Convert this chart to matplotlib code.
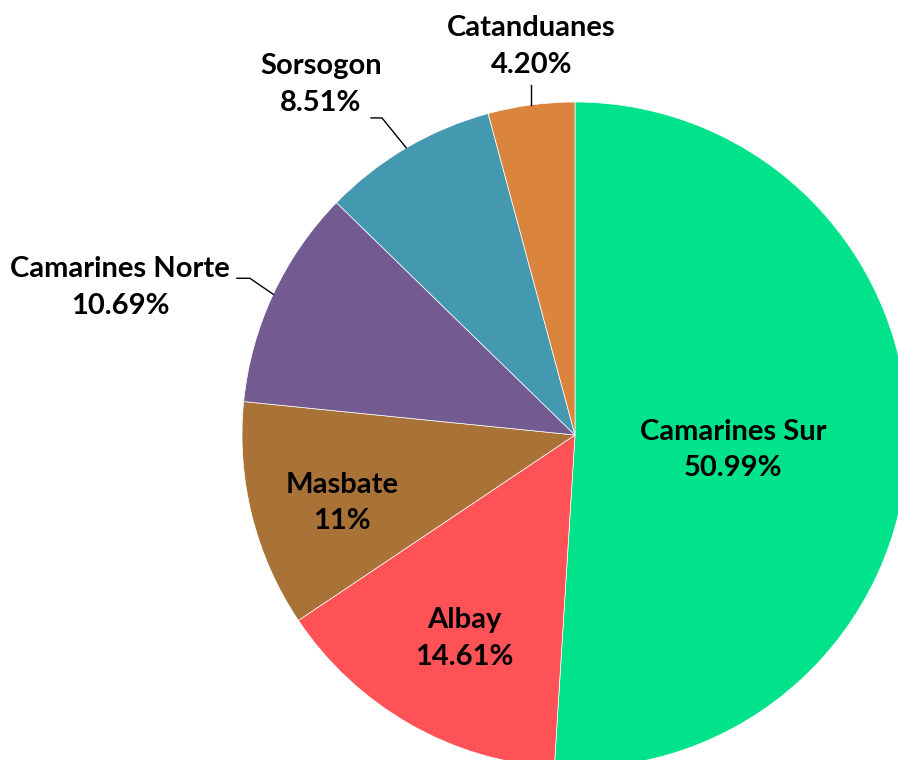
import numpy as np
import matplotlib.pyplot as plt

plt.rcParams['font.family'] = ['Lato', 'DejaVu Sans']

provinces = ['Camarines Sur', 'Albay', 'Masbate', 'Camarines Norte', 'Sorsogon', 'Catanduanes']
shares = [50.99, 14.61, 11, 10.69, 8.51, 4.20]
share_labels = ['50.99%', '14.61%', '11%', '10.69%', '8.51%', '4.20%']
colors = ['#00E38A', '#FF5257', '#A97337', '#735A90', '#4499B0', '#DB843D']

R = 333.0
fig = plt.figure(figsize=(8.98, 7.6), dpi=100)
ax = fig.add_axes([0, 0, 1, 1])

wedges, _ = ax.pie(shares, colors=colors, startangle=90, counterclock=False,
                   radius=1.0, wedgeprops={'edgecolor': 'white', 'linewidth': 0.5})
ax.set_xlim(-575 / R, 323 / R)
ax.set_ylim(-325 / R, 435 / R)
ax.set_aspect('equal')
ax.axis('off')

fs = 21
ls = 1.5
# inside label radius (fraction of pie radius)
inside = {0: 0.475, 1: 0.67, 2: 0.72}
# outside labels: elbow (dx, dy), horizontal tail, text offset (dx, dy) from wedge edge
outside = {
    3: ((-0.07, 0.048), 0.039, (-0.46, 0.02)),
    4: ((-0.073, 0.09), 0.033, (-0.256, 0.19)),
    5: ((0.0, 0.06), 0.0, (0.0, 0.175)),
}
for i, w in enumerate(wedges):
    mid = np.deg2rad((w.theta1 + w.theta2) / 2)
    txt = provinces[i] + '\n' + share_labels[i]
    if i in inside:
        r = inside[i]
        ax.text(r * np.cos(mid), r * np.sin(mid) - 0.03, txt, ha='center', va='center',
                fontsize=fs, fontweight='bold', linespacing=ls)
    else:
        (ex, ey), tail, (tx, ty) = outside[i]
        x0, y0 = np.cos(mid), np.sin(mid)
        x1, y1 = x0 + ex, y0 + ey
        ax.plot([x0, x1, x1 - tail], [y0, y1, y1], color='black', lw=1)
        ax.text(x0 + tx, y0 + ty, txt, ha='center', va='center',
                fontsize=fs, fontweight='bold', linespacing=ls)

fig.savefig('out.png', dpi=100)
